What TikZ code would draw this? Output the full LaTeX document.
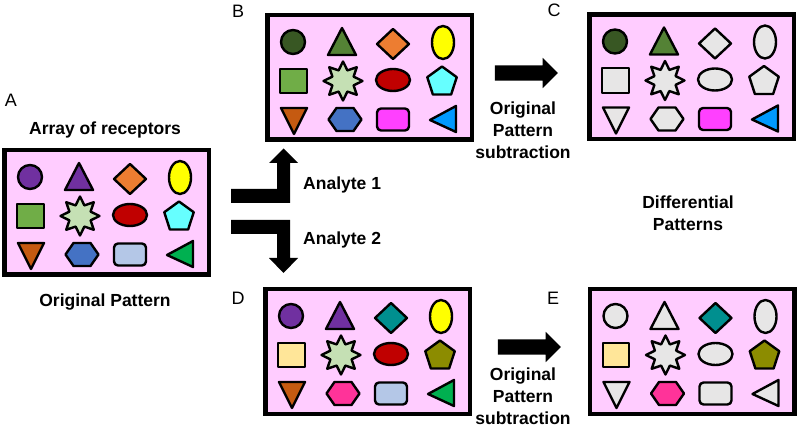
\documentclass[tikz,border=0pt]{standalone}
\usepackage{fontspec}
\setmainfont{Liberation Sans}
\usetikzlibrary{shapes.geometric,shapes.arrows}
\definecolor{boxpink}{HTML}{FFCCFF}
\definecolor{cpurple}{HTML}{7030A0}
\definecolor{corange}{HTML}{ED7D31}
\definecolor{cyellow}{HTML}{FFFF00}
\definecolor{cgreen}{HTML}{70AD47}
\definecolor{clgreen}{HTML}{C5E0B4}
\definecolor{cred}{HTML}{C00000}
\definecolor{ccyan}{HTML}{66FFFF}
\definecolor{cbrown}{HTML}{C55A11}
\definecolor{cblue}{HTML}{4472C4}
\definecolor{clblue}{HTML}{B4C7E7}
\definecolor{cemerald}{HTML}{00B050}
\definecolor{cdkgreen}{HTML}{385723}
\definecolor{cmgreen}{HTML}{548235}
\definecolor{cmagenta}{HTML}{FF40FF}
\definecolor{cazure}{HTML}{0099FF}
\definecolor{cgrey}{HTML}{E7E6E6}
\definecolor{cteal}{HTML}{008F8F}
\definecolor{ccream}{HTML}{FFE699}
\definecolor{colive}{HTML}{8C8C00}
\definecolor{cpink}{HTML}{FF3399}
\tikzset{
  panelbox/.style={draw=black, fill=boxpink, line width=4.5, minimum width=204.5, minimum height=124.5, inner sep=0},
  shp/.style={draw=black, line width=2.4, line join=round, inner sep=0},
  lbl/.style={font=\fontsize{18}{18}\selectfont, inner sep=0},
  bt/.style={font=\bfseries\fontsize{17.5}{22}\selectfont, align=center, inner sep=0},
  blockarrow/.style={single arrow, fill=black, draw=none, inner sep=0, inner ysep=7.5, minimum height=63, single arrow head extend=7.5, single arrow tip angle=90, text height=0, text depth=0},
}
\newcommand\rowcolsA[4]{\def\cAa{#1}\def\cAb{#2}\def\cAc{#3}\def\cAd{#4}}
\newcommand\rowcolsB[4]{\def\cBa{#1}\def\cBb{#2}\def\cBc{#3}\def\cBd{#4}}
\newcommand\rowcolsC[4]{\def\cCa{#1}\def\cCb{#2}\def\cCc{#3}\def\cCd{#4}}
\newcommand\drawpanel[3]{%
\begin{scope}[shift={(#2,#3)}]
  \node[panelbox] (#1) at (104.5,64.5) {};
  \node[shp, circle, fill=\cAa, minimum size=24] (#1-1) at (28,29) {};
  \path[shp, fill=\cAb] (77,15) -- (91,42) -- (63,42) -- cycle;
  \path[shp, fill=\cAc] (128,16) -- (144,31) -- (128,46) -- (112,31) -- cycle;
  \node[shp, ellipse, fill=\cAd, minimum width=22, minimum height=33] (#1-4) at (178,29.5) {};
  \node[shp, rectangle, fill=\cBa, minimum width=26.5, minimum height=24.5] (#1-5) at (28.5,68) {};
  \node[shp, star, star points=8, star point ratio=1.7, fill=\cBb, minimum size=39] (#1-6) at (78,68) {};
  \node[shp, ellipse, fill=\cBc, minimum width=34, minimum height=22] (#1-7) at (128,67) {};
  \node[shp, regular polygon, regular polygon sides=5, fill=\cBd, minimum size=31] (#1-8) at (177,69) {};
  \path[shp, fill=\cCa] (16,95) -- (42,95) -- (29,121) -- cycle;
  \path[shp, fill=\cCb] (63.5,106.5) -- (71.5,95) -- (88.5,95) -- (96.5,106.5) -- (88.5,118) -- (71.5,118) -- cycle;
  \node[shp, rectangle, rounded corners=4, fill=\cCc, minimum width=32, minimum height=22] (#1-11) at (128,106.5) {};
  \path[shp, fill=\cCd] (191,93) -- (191,119) -- (165,107) -- cycle;
\end{scope}}
\begin{document}
\begin{tikzpicture}[x=1pt, y=-1pt]
\useasboundingbox (0,0) rectangle (800,427);
% Panel A
\rowcolsA{cpurple}{cpurple}{corange}{cyellow}
\rowcolsB{cgreen}{clgreen}{cred}{ccyan}
\rowcolsC{cbrown}{cblue}{clblue}{cemerald}
\drawpanel{pA}{2}{148}
% Panel B
\rowcolsA{cdkgreen}{cmgreen}{corange}{cyellow}
\rowcolsB{cgreen}{clgreen}{cred}{ccyan}
\rowcolsC{cbrown}{cblue}{cmagenta}{cazure}
\drawpanel{pB}{265}{13}
% Panel C
\rowcolsA{cdkgreen}{cmgreen}{cgrey}{cgrey}
\rowcolsB{cgrey}{cgrey}{cgrey}{cgrey}
\rowcolsC{cgrey}{cgrey}{cmagenta}{cazure}
\drawpanel{pC}{587}{12.5}
% Panel D
\rowcolsA{cpurple}{cpurple}{cteal}{cyellow}
\rowcolsB{ccream}{clgreen}{cred}{colive}
\rowcolsC{cbrown}{cpink}{clblue}{cemerald}
\drawpanel{pD}{263}{287}
% Panel E
\rowcolsA{cgrey}{cgrey}{cteal}{cgrey}
\rowcolsB{ccream}{cgrey}{cgrey}{colive}
\rowcolsC{cgrey}{cpink}{cgrey}{cgrey}
\drawpanel{pE}{587.5}{287}
% labels
\node[lbl] (labA) at (11,100) {A};
\node[lbl] (labB) at (238,11) {B};
\node[lbl] (labC) at (554,10) {C};
\node[lbl] (labD) at (238,298) {D};
\node[lbl] (labE) at (553,298) {E};
\node[bt] (tArr) at (105,130) {Array of receptors};
\node[bt] (tOrig) at (105,302.5) {Original Pattern};
\node[bt] (tSub1) at (523,130) {Original\\Pattern\\subtraction};
\node[bt] (tSub2) at (523,396) {Original\\Pattern\\subtraction};
\node[bt] (tDiff) at (688,213) {Differential\\Patterns};
\node[bt, anchor=west] (tAn1) at (303,185) {Analyte 1};
\node[bt, anchor=west] (tAn2) at (303,240) {Analyte 2};
% block arrows
\node[blockarrow] (arBC) at (522.5,73) {};
\node[blockarrow] (arDE) at (525.5,347) {};
% analyte arrows
\fill[black] (231,189) -- (277,189) -- (277,163) -- (269,163) -- (283.5,148.5) -- (298,163) -- (290,163) -- (290,203) -- (231,203) -- cycle;
\fill[black] (231,220) -- (290,220) -- (290,258) -- (298,258) -- (283.5,273) -- (269,258) -- (277,258) -- (277,234) -- (231,234) -- cycle;
\end{tikzpicture}
\end{document}
